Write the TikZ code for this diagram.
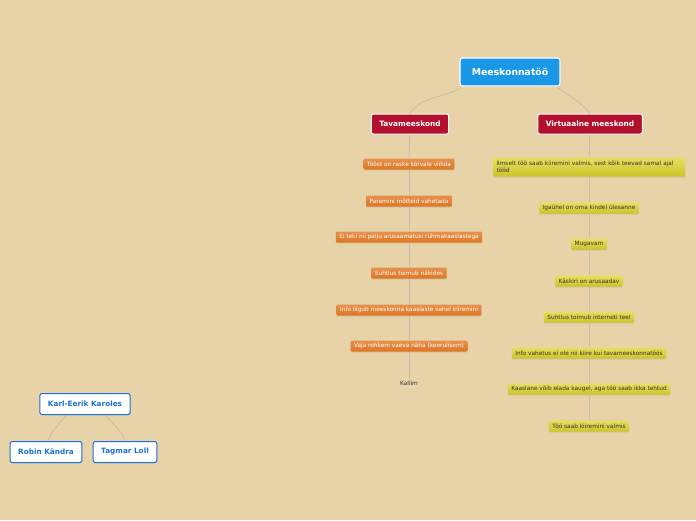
\documentclass[tikz,border=0pt]{standalone}
\usepackage{fontspec}
\setmainfont{DejaVu Sans}
\usepackage{xcolor}
\usepackage{tikz}
\usetikzlibrary{shadows}

\definecolor{paper}{RGB}{232,211,168}
\definecolor{rootblue}{RGB}{26,152,230}
\definecolor{teamred}{RGB}{178,16,45}
\definecolor{leaforange}{RGB}{222,118,34}
\definecolor{leafyellow}{RGB}{222,212,44}
\definecolor{namblue}{RGB}{28,112,214}
\definecolor{edgegray}{RGB}{198,190,176}

\pgfdeclarelayer{edges}
\pgfdeclarelayer{paperlayer}
\pgfsetlayers{paperlayer,edges,main}

\begin{document}
\begin{tikzpicture}[
  x=1pt, y=-1pt,
  root/.style={
    draw=white,
    line width=1.2pt,
    rounded corners=2.5pt,
    fill=rootblue,
    text=white,
    font=\fontsize{9.3}{11}\selectfont\bfseries,
    minimum width=100pt,
    minimum height=28pt,
    drop shadow={opacity=0.2, shadow xshift=0.6pt, shadow yshift=-0.8pt}
  },
  team/.style={
    draw=white,
    line width=1pt,
    rounded corners=2pt,
    fill=teamred,
    text=white,
    font=\fontsize{7.4}{9}\selectfont\bfseries,
    inner xsep=8pt,
    minimum height=20pt,
    drop shadow={opacity=0.2, shadow xshift=0.6pt, shadow yshift=-0.8pt}
  },
  plus/.style={
    rounded corners=1pt,
    top color=leaforange!80!white,
    bottom color=leaforange,
    draw=none,
    text=white,
    font=\fontsize{5.8}{7}\selectfont,
    inner xsep=3.5pt,
    inner ysep=1.5pt,
    minimum height=11pt,
    drop shadow={opacity=0.18, shadow xshift=0pt, shadow yshift=-1.2pt}
  },
  virt/.style={
    plus,
    top color=leafyellow!75!white,
    bottom color=leafyellow!92!black,
    text=black!80
  },
  person/.style={
    draw=namblue,
    line width=1pt,
    rounded corners=2pt,
    fill=white,
    text=namblue,
    font=\fontsize{7.3}{9}\selectfont\bfseries,
    inner xsep=8pt,
    minimum height=21pt,
    drop shadow={opacity=0.15, shadow xshift=0.5pt, shadow yshift=-0.8pt}
  },
  link/.style={draw=edgegray, line width=0.9pt}
]
  \begin{pgfonlayer}{paperlayer}
    \fill[paper] (0,0) rectangle (696,520);
  \end{pgfonlayer}
  \useasboundingbox (0,0) rectangle (696,520);

  % main topic and the two teams
  \node[root] (meeskond) at (510,72) {Meeskonnatöö};
  \node[team] (tava) at (410,124) {Tavameeskond};
  \node[team] (virt) at (590,124) {Virtuaalne meeskond};

  % Tavameeskond
  \node[plus] (t1) at (409,164) {Tööst on raske kõrvale viilida};
  \node[plus] (t2) at (409,201) {Paremini mõtteid vahetada};
  \node[plus] (t3) at (409,237) {Ei teki nii palju arusaamatusi rühmakaaslastega};
  \node[plus] (t4) at (409,273) {Suhtlus toimub näkides};
  \node[plus] (t5) at (409,310) {Info liigub meeskonna kaaslaste vahel kiiremini};
  \node[plus] (t6) at (409,346) {Vaja rohkem vaeva näha (keerulisem)};
  \node[font=\fontsize{5.8}{7}\selectfont, text=black!80, inner sep=2pt] (t7) at (409,383) {Kallim};

  % Virtuaalne meeskond
  \node[virt, text width=185pt, align=left, minimum height=19pt] (v1) at (589,167)
    {Ilmselt töö saab kiiremini valmis, sest kõik teevad samal ajal\\tööd};
  \node[virt] (v2) at (589,208) {Igaühel on oma kindel ülesanne};
  \node[virt] (v3) at (589,244) {Mugavam};
  \node[virt] (v4) at (589,281) {Käskiri on arusaadav};
  \node[virt] (v5) at (589,317) {Suhtlus toimub interneti teel};
  \node[virt] (v6) at (589,353) {Info vahetus ei ole nii kiire kui tavameeskonnatöös};
  \node[virt] (v7) at (589,389) {Kaaslane võib elada kaugel, aga töö saab ikka tehtud};
  \node[virt] (v8) at (589,426) {Töö saab kiiremini valmis};

  % group members
  \node[person] (karl) at (85,404) {Karl-Eerik Karoles};
  \node[person] (robin) at (46,452) {Robin Kändra};
  \node[person] (tagmar) at (125,452) {Tagmar Loll};

  \begin{pgfonlayer}{edges}
    \draw[link] ([yshift=-2pt]meeskond.south west) to[out=208,in=55] (tava.north);
    \draw[link] ([xshift=-3pt,yshift=-1pt]meeskond.south east) to[out=-34,in=130] (virt.north);
    \draw[link] (tava) -- (t1);
    \foreach \a/\b in {t1/t2,t2/t3,t3/t4,t4/t5,t5/t6,t6/t7}
      \draw[link] (\a) -- (\b);
    \draw[link] (virt) -- (v1);
    \foreach \a/\b in {v1/v2,v2/v3,v3/v4,v4/v5,v5/v6,v6/v7,v7/v8}
      \draw[link] (\a) -- (\b);
    \draw[link] ([xshift=-19pt]karl.south) to[out=235,in=70] ([xshift=2pt]robin.north);
    \draw[link] ([xshift=21pt]karl.south) to[out=-55,in=110] (tagmar.north);
  \end{pgfonlayer}
  \draw[edgegray!60, line width=0.8pt] ([xshift=-2pt]t7.south west) -- ([xshift=2pt]t7.south east);
\end{tikzpicture}
\end{document}
